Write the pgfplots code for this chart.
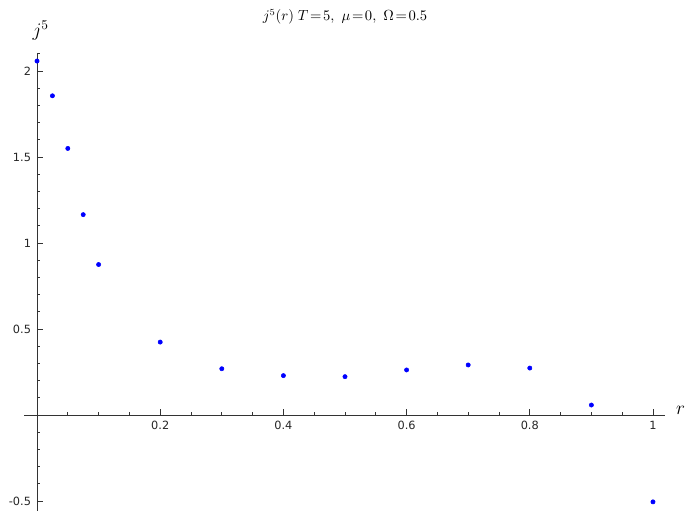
\documentclass[border=0pt]{standalone}
\usepackage{fontspec}
\usepackage{pgfplots}
\pgfplotsset{compat=1.18}
\newfontfamily\tickfont{DejaVu Sans}
\begin{document}
\begin{tikzpicture}
\begin{axis}[
  x=462pt, y=129pt,
  xmin=-0.021, xmax=1.02, ymin=-0.558, ymax=2.1,
  axis lines=middle,
  axis line style={-, black!80, line width=0.7pt},
  tick align=inside,
  xtick={0.2,0.4,0.6,0.8,1},
  xticklabels={0.2,0.4,0.6,0.8,1},
  ytick={-0.5,0.5,1,1.5,2},
  yticklabels={-0.5,0.5,1,1.5,2},
  minor xtick={0.05,0.1,0.15,0.25,0.3,0.35,0.45,0.5,0.55,0.65,0.7,0.75,0.85,0.9,0.95},
  minor ytick={-0.4,-0.3,-0.2,-0.1,0.1,0.2,0.3,0.4,0.6,0.7,0.8,0.9,1.1,1.2,1.3,1.4,1.6,1.7,1.8,1.9,2.1},
  major tick length=4.5pt,
  minor tick length=2.2pt,
  every tick/.style={black!80, line width=0.6pt},
  ticklabel style={font=\tickfont\fontsize{8.5}{10}\selectfont, text=black!85},
  xticklabel style={yshift=-1pt},
  yticklabel style={xshift=-1pt},
  clip=false,
]
\addplot[only marks, mark=*, mark size=1.6pt, color=blue, mark options={draw=blue, fill=blue}] coordinates {
  (0,2.058) (0.025,1.856) (0.05,1.55) (0.075,1.165) (0.1,0.875)
  (0.2,0.424) (0.3,0.269) (0.4,0.229) (0.5,0.223) (0.6,0.262)
  (0.7,0.291) (0.8,0.273) (0.9,0.058) (1.0,-0.505)
};
\node[font=\fontsize{10.5}{12}\selectfont] at (axis cs:0.5,2.314) {$j^5(r)\;T\!=\!5,\ \mu\!=\!0,\ \Omega\!=\!0.5$};
\node[font=\fontsize{14}{16}\selectfont] at (axis cs:0.006,2.238) {$j^5$};
\node[font=\fontsize{14}{16}\selectfont] at (axis cs:1.045,0.028) {$r$};
\coordinate (bl) at (axis cs:-0.0601,-0.558);
\coordinate (tr) at (axis cs:1.052,2.413);
\end{axis}
\pgfresetboundingbox
\path[use as bounding box] (bl) rectangle (tr);
\end{tikzpicture}
\end{document}
